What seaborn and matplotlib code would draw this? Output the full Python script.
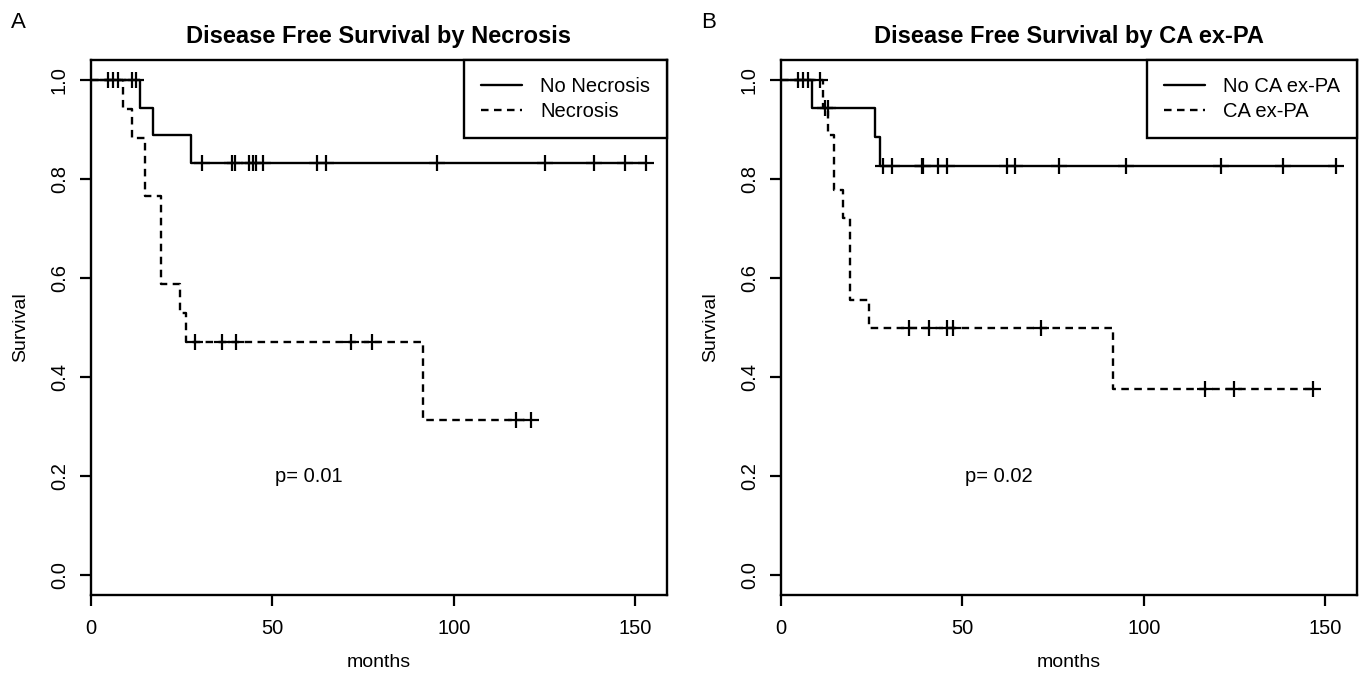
import numpy as np
import pandas as pd
import seaborn as sns
import matplotlib.pyplot as plt

# Panel A - disease free survival by necrosis
no_necrosis_event_times = [13.4, 17.0, 27.5]
no_necrosis_surv = [0.944, 0.889, 0.833]
no_necrosis_censor = [4.6, 6.0, 7.4, 11.2, 12.4, 30.6, 38.8, 39.7, 43.5, 44.6,
                      45.6, 47.5, 62.3, 64.8, 95.4, 125.2, 138.6, 147.1, 153.0]

necrosis_event_times = [8.7, 11.4, 14.9, 19.3, 24.5, 26.2, 91.6]
necrosis_surv = [0.941, 0.882, 0.765, 0.588, 0.529, 0.471, 0.314]
necrosis_censor = [28.8, 36.1, 40.0, 71.6, 77.6, 117.2, 121.4]

# Panel B - disease free survival by CA ex-PA
no_ca_event_times = [8.6, 25.9, 27.3]
no_ca_surv = [0.944, 0.885, 0.827]
no_ca_censor = [4.6, 6.0, 7.4, 12.1, 13.0, 28.2, 30.5, 38.8, 39.2, 43.4, 45.7,
                62.2, 64.5, 76.6, 95.1, 121.4, 138.5, 153.0]

ca_event_times = [11.6, 13.0, 14.6, 17.0, 19.1, 24.3, 91.5]
ca_surv = [0.944, 0.889, 0.778, 0.722, 0.556, 0.5, 0.375]
ca_censor = [10.8, 35.2, 40.9, 45.7, 47.5, 71.6, 116.8, 125.0, 146.7]

titles = ["Disease Free Survival by Necrosis", "Disease Free Survival by CA ex-PA"]
legend_labels = [["No Necrosis", "Necrosis"], ["No CA ex-PA", "CA ex-PA"]]
p_values = ["p= 0.01", "p= 0.02"]
panel_letters = ["A", "B"]

sns.set_style("ticks")
plt.rcParams['font.family'] = ['Liberation Sans', 'DejaVu Sans']
plt.rcParams['text.color'] = 'black'
plt.rcParams['axes.labelcolor'] = 'black'
plt.rcParams['xtick.color'] = 'black'
plt.rcParams['ytick.color'] = 'black'


def step_frame(times, surv, censor):
    end = max(max(times), max(censor))
    return pd.DataFrame({"months": [0.0] + list(times) + [end],
                         "Survival": [1.0] + list(surv) + [surv[-1]]})


def censor_frame(times, surv, censor):
    levels = np.concatenate([[1.0], surv])
    idx = np.searchsorted(times, censor, side="right")
    return pd.DataFrame({"months": censor, "Survival": levels[idx]})


panels = [
    [(no_necrosis_event_times, no_necrosis_surv, no_necrosis_censor),
     (necrosis_event_times, necrosis_surv, necrosis_censor)],
    [(no_ca_event_times, no_ca_surv, no_ca_censor),
     (ca_event_times, ca_surv, ca_censor)],
]

fig = plt.figure(figsize=(13.6, 6.77), dpi=100)
ax_lefts = [91 / 1360, 781 / 1360]
styles = ["-", (0, (3.2, 2.3))]

for i, groups in enumerate(panels):
    ax = fig.add_axes([ax_lefts[i], 82 / 677, 576 / 1360, 535 / 677])
    for (times, surv, cens), ls, lab in zip(groups, styles, legend_labels[i]):
        sns.lineplot(data=step_frame(times, surv, cens), x="months", y="Survival",
                     ax=ax, color="black", linewidth=1.7, linestyle=ls,
                     drawstyle="steps-post", label=lab, estimator=None)
        sns.scatterplot(data=censor_frame(times, surv, cens), x="months", y="Survival",
                        ax=ax, marker="+", s=140, color="black", linewidth=1.6,
                        legend=False, zorder=3)

    ax.set_xlim(0, 158.8)
    ax.set_ylim(-0.04, 1.04)
    ax.set_xticks([0, 50, 100, 150])
    ax.set_yticks([0.0, 0.2, 0.4, 0.6, 0.8, 1.0])
    ax.set_yticklabels(["0.0", "0.2", "0.4", "0.6", "0.8", "1.0"])
    ax.tick_params(axis="both", labelsize=14.5, length=8, width=1.6, direction="out")
    ax.tick_params(axis="x", pad=9)
    ax.tick_params(axis="y", pad=8, labelrotation=90)
    for lbl in ax.get_yticklabels():
        lbl.set_verticalalignment("center")
    for sp in ax.spines.values():
        sp.set_linewidth(1.7)
        sp.set_color("black")

    ax.set_xlabel("months", fontsize=14)
    ax.set_ylabel("Survival", fontsize=14)
    ax.xaxis.set_label_coords(0.5, -0.11)
    ax.yaxis.set_label_coords(-0.108, 0.5)
    ax.set_title(titles[i], fontsize=17, fontweight="bold", pad=12)

    ax.text(60, 0.2, p_values[i], ha="center", va="center", fontsize=14.5)

    leg = ax.legend(loc="upper right", borderaxespad=0, fancybox=False,
                    edgecolor="black", framealpha=1, fontsize=14.5,
                    handlelength=2.0, handletextpad=0.9, borderpad=0.85,
                    labelspacing=0.3)
    leg.get_frame().set_linewidth(1.7)

    fig.text(ax_lefts[i] - 80 / 1360, 1 - 22 / 677, panel_letters[i],
             fontsize=16, ha="left", va="center")

plt.savefig("out.png", dpi=100)
